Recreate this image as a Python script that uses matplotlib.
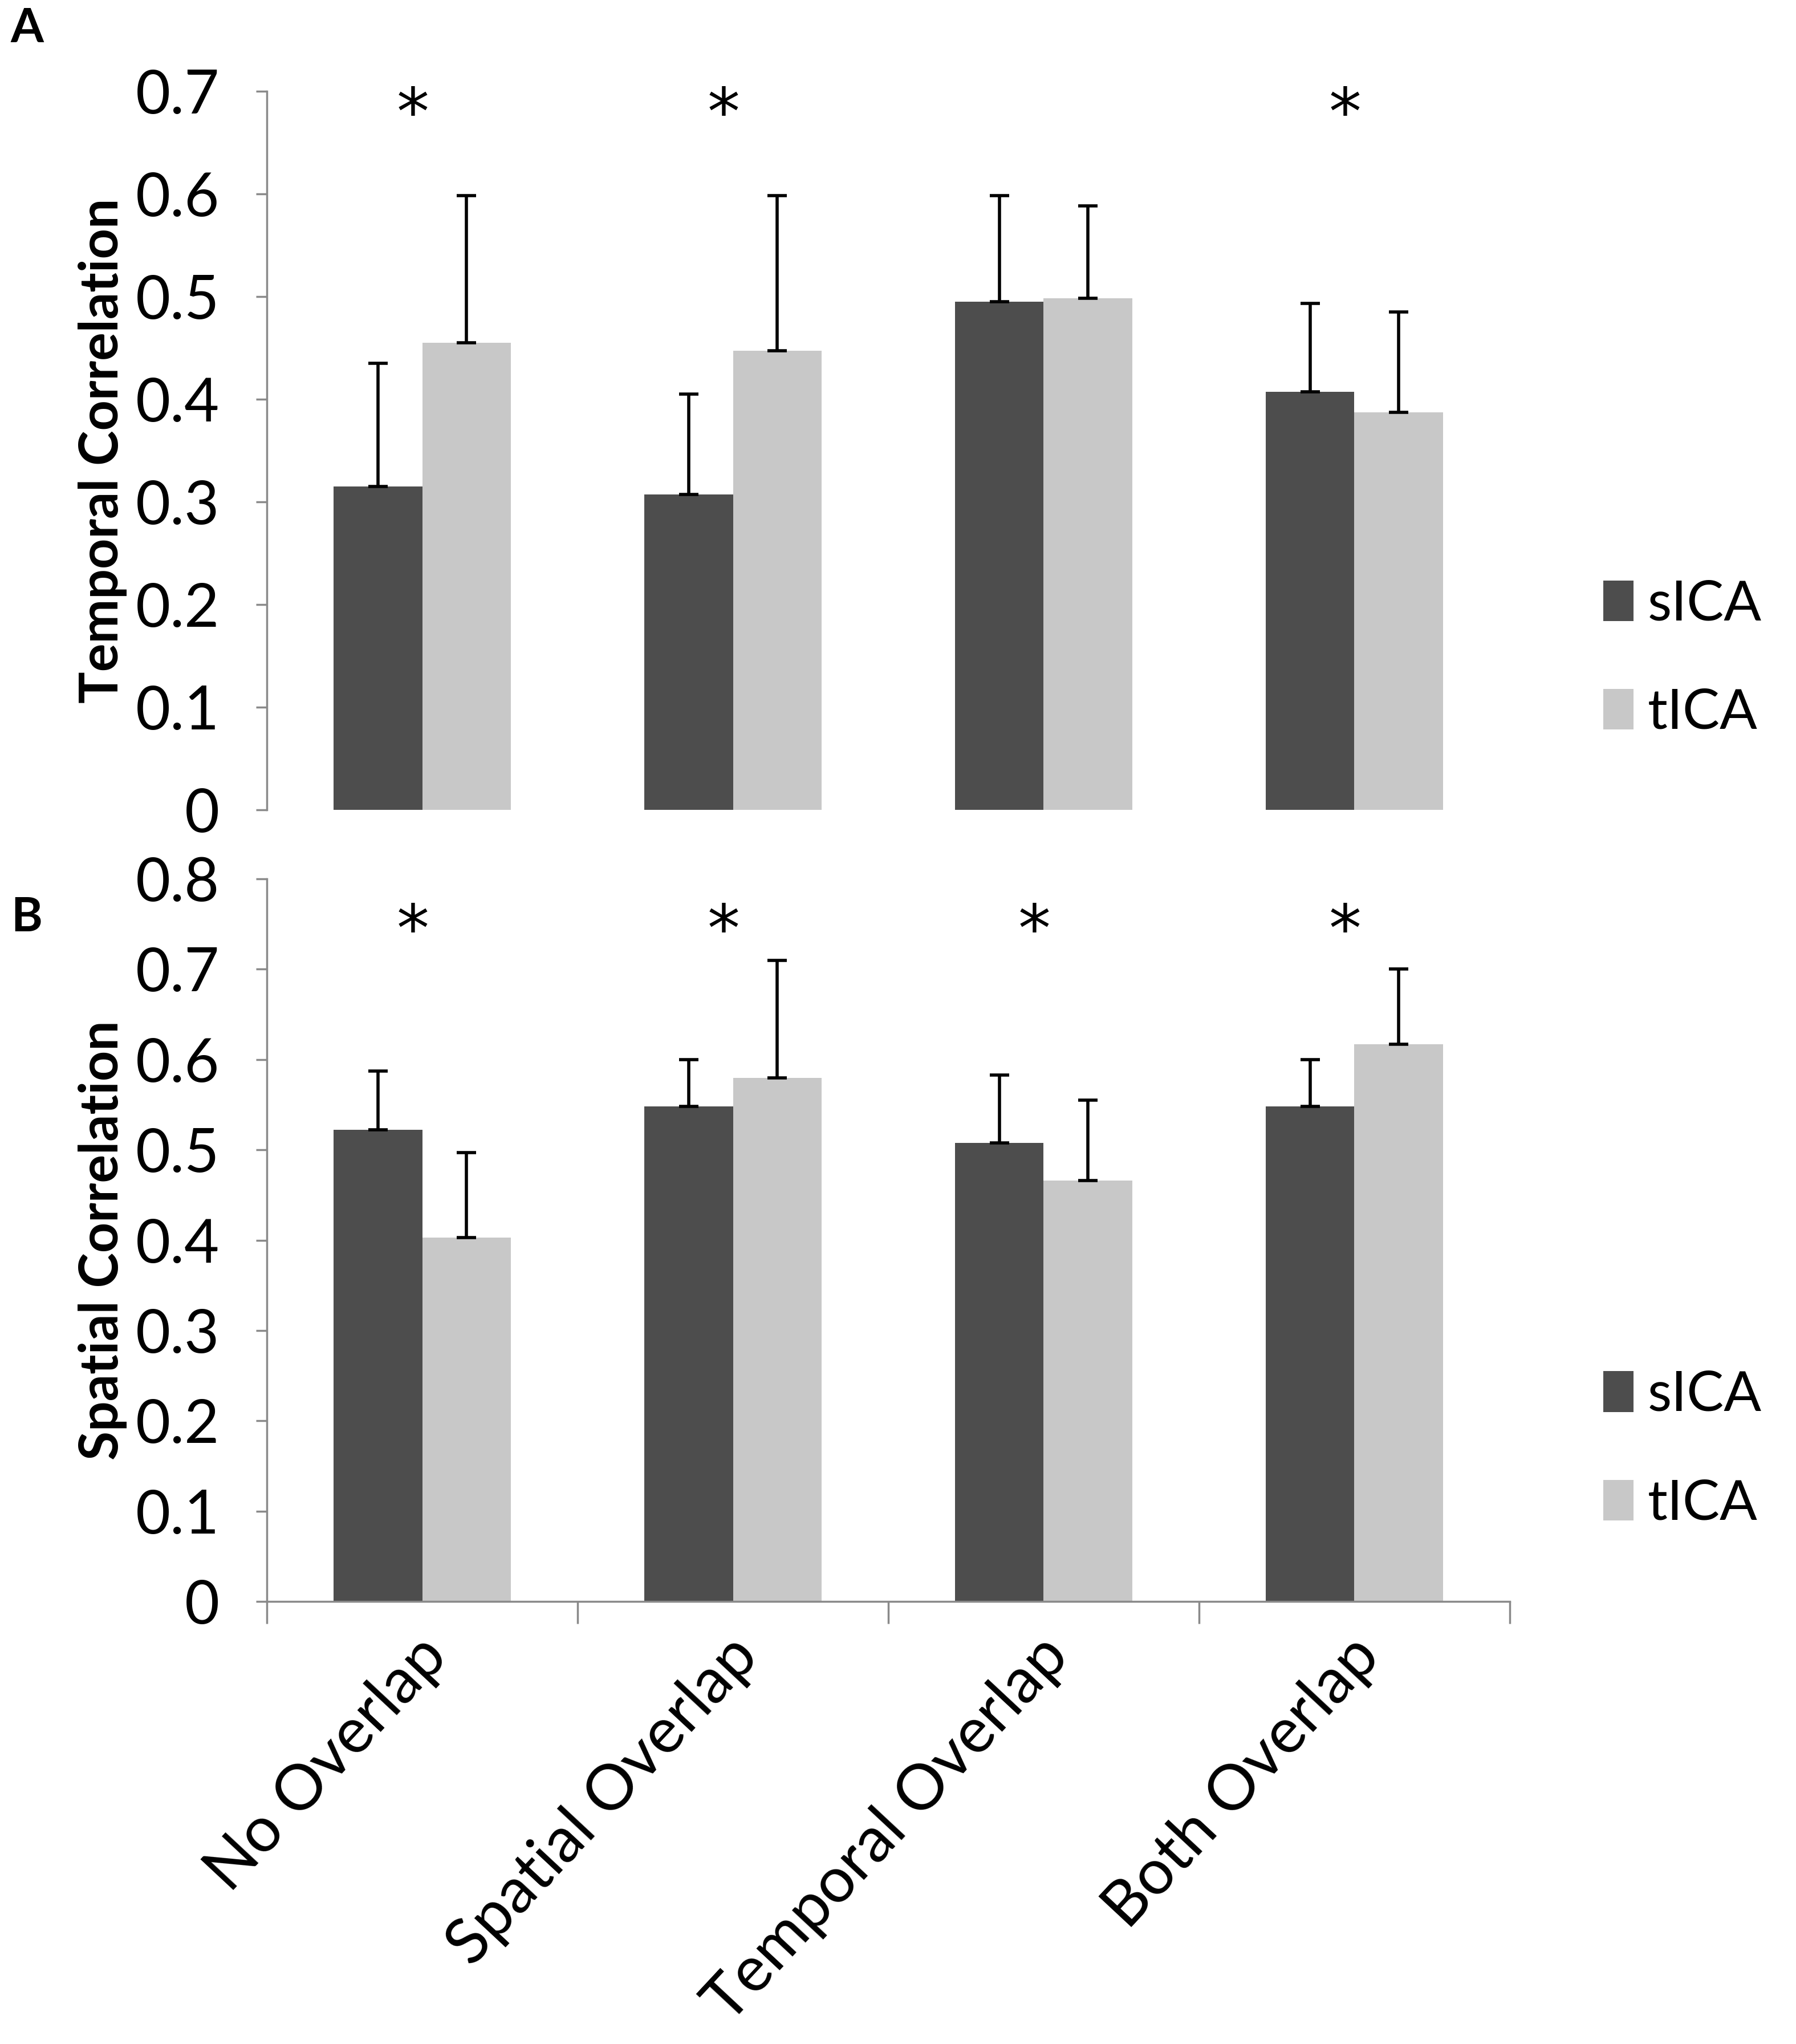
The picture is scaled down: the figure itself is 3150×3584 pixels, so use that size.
import numpy as np
import matplotlib
matplotlib.use("Agg")
import matplotlib.pyplot as plt
from matplotlib.patches import Patch

plt.rcParams['font.family'] = ['Lato', 'DejaVu Sans']

categories = ["No Overlap", "Spatial Overlap", "Temporal Overlap", "Both Overlap"]
series = ["sICA", "tICA"]

# panel A: temporal correlation (means and upper error)
temporal_sica = [0.315, 0.307, 0.495, 0.407]
temporal_sica_err = [0.120, 0.098, 0.103, 0.086]
temporal_tica = [0.455, 0.447, 0.498, 0.387]
temporal_tica_err = [0.143, 0.151, 0.090, 0.098]
temporal_sig = [True, True, False, True]

# panel B: spatial correlation
spatial_sica = [0.522, 0.548, 0.508, 0.548]
spatial_sica_err = [0.065, 0.052, 0.075, 0.052]
spatial_tica = [0.403, 0.580, 0.466, 0.617]
spatial_tica_err = [0.094, 0.130, 0.089, 0.083]
spatial_sig = [True, True, True, True]

dark = "#4d4d4d"
light = "#c8c8c8"
spine_col = "#8a8a8a"

fig = plt.figure(figsize=(31.5, 35.84), dpi=100)
axA = fig.add_axes([0.1486, 0.6038, 0.692, 0.3516])
axB = fig.add_axes([0.1486, 0.2165, 0.692, 0.3535])

x = np.arange(len(categories))
w = 0.285


def draw(ax, s, s_err, t, t_err, sig, ymax, ylabel, star_y, show_x):
    ax.bar(x - w / 2, s, w, color=dark, zorder=2)
    ax.bar(x + w / 2, t, w, color=light, zorder=2)
    ax.errorbar(x - w / 2, s, yerr=[np.zeros(len(s)), s_err], fmt='none',
                ecolor='black', elinewidth=4, capsize=12, capthick=4, zorder=3)
    ax.errorbar(x + w / 2, t, yerr=[np.zeros(len(t)), t_err], fmt='none',
                ecolor='black', elinewidth=4, capsize=12, capthick=4, zorder=3)
    for i, flag in enumerate(sig):
        if flag:
            ax.text(x[i] - 0.03, star_y, "*", ha='center', va='center', fontsize=82,
                    family='DejaVu Sans')
    ax.set_xlim(-0.5, len(categories) - 0.5)
    ax.set_ylim(0, ymax)
    ax.set_yticks(np.arange(0, ymax + 0.001, 0.1))
    ax.set_yticklabels(["0"] + ["%.1f" % v for v in np.arange(0.1, ymax + 0.001, 0.1)])
    ax.tick_params(axis='y', labelsize=76, length=14, width=2.5, color=spine_col, pad=46)
    for sp in ['top', 'right']:
        ax.spines[sp].set_visible(False)
    ax.spines['left'].set_color(spine_col)
    ax.spines['left'].set_linewidth(2.5)
    ax.set_ylabel(ylabel, fontsize=67, fontweight='bold', labelpad=10)
    if show_x:
        ax.spines['bottom'].set_color(spine_col)
        ax.spines['bottom'].set_linewidth(2.5)
        ax.set_xticks(np.arange(-0.5, len(categories)), minor=False)
        ax.set_xticklabels([])
        ax.tick_params(axis='x', length=28, width=2.5, color=spine_col, direction='out')
        for i, c in enumerate(categories):
            ax.text(x[i] - 0.02, -0.035, c, transform=ax.get_xaxis_transform(),
                    rotation=47, rotation_mode='anchor', ha='right', va='top',
                    fontsize=80)
    else:
        ax.spines['bottom'].set_visible(False)
        ax.set_xticks([])
    handles = [Patch(facecolor=dark, label=series[0]), Patch(facecolor=light, label=series[1])]
    ax.legend(handles=handles, loc='center left', bbox_to_anchor=(1.035, 0.21),
              frameon=False, fontsize=70, handlelength=0.55, handleheight=0.75,
              handletextpad=0.25, labelspacing=1.05)


draw(axA, temporal_sica, temporal_sica_err, temporal_tica, temporal_tica_err,
     temporal_sig, 0.7, "Temporal Correlation", 0.675, False)
draw(axB, spatial_sica, spatial_sica_err, spatial_tica, spatial_tica_err,
     spatial_sig, 0.8, "Spatial Correlation", 0.74, True)

fig.text(0.006, 0.986, "A", fontsize=60, fontweight='bold', va='center', ha='left')
fig.text(0.006, 0.551, "B", fontsize=60, fontweight='bold', va='center', ha='left')

fig.savefig("out.png", dpi=100, facecolor='white')
